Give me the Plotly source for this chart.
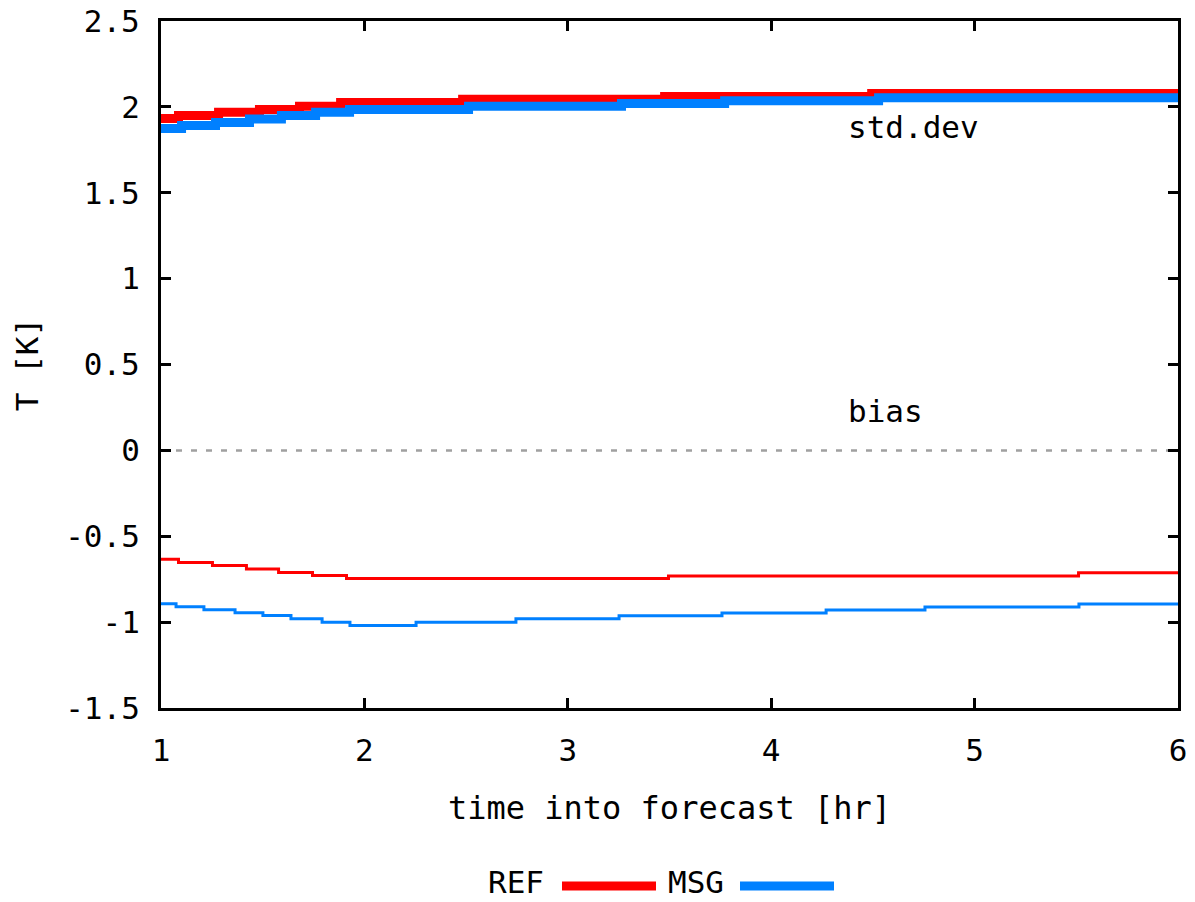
import plotly.graph_objects as go

# ---- data ----
ref_std_t = [1.0, 1.086, 1.283, 1.484, 1.681, 1.883, 2.483, 3.476, 4.494, 6.0]
ref_std_v = [1.933, 1.950, 1.968, 1.985, 2.003, 2.026, 2.044, 2.061, 2.078, 2.078]

msg_std_t = [1.0, 1.101, 1.268, 1.435, 1.592, 1.760, 1.927, 2.512, 3.264, 3.771, 4.528, 6.0]
msg_std_v = [1.874, 1.892, 1.909, 1.930, 1.950, 1.968, 1.985, 2.003, 2.020, 2.035, 2.053, 2.053]

ref_bias_t = [1.0, 1.086, 1.253, 1.420, 1.578, 1.745, 1.912, 3.495, 5.511, 6.0]
ref_bias_v = [-0.634, -0.653, -0.670, -0.690, -0.711, -0.729, -0.746, -0.731, -0.713, -0.713]

msg_bias_t = [1.0, 1.074, 1.211, 1.364, 1.501, 1.639, 1.792, 1.929, 2.254, 2.745,
              3.252, 3.758, 4.270, 4.756, 5.513, 6.0]
msg_bias_v = [-0.893, -0.910, -0.928, -0.945, -0.962, -0.980, -1.000, -1.020, -1.000, -0.980,
              -0.963, -0.947, -0.930, -0.912, -0.895, -0.895]

x_ticks = [1, 2, 3, 4, 5, 6]
x_tick_labels = ["1", "2", "3", "4", "5", "6"]
y_ticks = [2.5, 2, 1.5, 1, 0.5, 0, -0.5, -1, -1.5]
y_tick_labels = ["2.5", "2", "1.5", "1", "0.5", "0", "-0.5", "-1", "-1.5"]

series_names = ["REF", "MSG"]
RED = "#ff0000"
BLUE = "#0080ff"
FONT = "DejaVu Sans Mono"
FS = 31

fig = go.Figure()

# zero reference line
fig.add_hline(y=0, line=dict(color="#a0a0a0", width=2.5, dash="6px,9px"), layer="below")

fig.add_trace(go.Scatter(x=ref_std_t, y=ref_std_v, mode="lines", line_shape="hv",
                         line=dict(color=RED, width=9), name="REF", showlegend=False))
fig.add_trace(go.Scatter(x=msg_std_t, y=msg_std_v, mode="lines", line_shape="hv",
                         line=dict(color=BLUE, width=9), name="MSG", showlegend=False))
fig.add_trace(go.Scatter(x=ref_bias_t, y=ref_bias_v, mode="lines", line_shape="hv",
                         line=dict(color=RED, width=3), name="REF", showlegend=False))
fig.add_trace(go.Scatter(x=msg_bias_t, y=msg_bias_v, mode="lines", line_shape="hv",
                         line=dict(color=BLUE, width=3), name="MSG", showlegend=False))

# in-plot labels
fig.add_annotation(x=4.37, y=1.883, text="std.dev", showarrow=False, xanchor="left",
                   font=dict(family=FONT, size=FS, color="black"))
fig.add_annotation(x=4.37, y=0.23, text="bias", showarrow=False, xanchor="left",
                   font=dict(family=FONT, size=FS, color="black"))

# legend (gnuplot style: text then sample)
W = 1017.0
H = 687.0
def px(xp):
    return (xp - 161) / W
def py(yp):
    return (708 - yp) / H

fig.add_annotation(x=px(545), y=py(882), xref="paper", yref="paper", text=series_names[0],
                   showarrow=False, xanchor="right", yanchor="middle", borderpad=0,
                   font=dict(family=FONT, size=FS, color="black"))
fig.add_shape(type="line", xref="paper", yref="paper", x0=px(562), x1=px(656), y0=py(886), y1=py(886),
              line=dict(color=RED, width=9))
fig.add_annotation(x=px(725), y=py(882), xref="paper", yref="paper", text=series_names[1],
                   showarrow=False, xanchor="right", yanchor="middle", borderpad=0,
                   font=dict(family=FONT, size=FS, color="black"))
fig.add_shape(type="line", xref="paper", yref="paper", x0=px(740), x1=px(834), y0=py(886), y1=py(886),
              line=dict(color=BLUE, width=9))

axis_common = dict(showline=True, linewidth=3, linecolor="black", mirror="ticks",
                   ticks="inside", ticklen=10, tickwidth=3, tickcolor="black",
                   showgrid=False, zeroline=False, automargin=False,
                   tickfont=dict(family=FONT, size=FS, color="black"))

fig.update_xaxes(range=[1, 6], tickvals=x_ticks, ticktext=x_tick_labels,
                 title=dict(text="time into forecast [hr]", font=dict(family=FONT, size=32, color="black"),
                            standoff=30),
                 ticklabelstandoff=13, **axis_common)
fig.update_yaxes(range=[-1.5, 2.5], tickvals=y_ticks, ticktext=y_tick_labels,
                 title=dict(text="T [K]", font=dict(family=FONT, size=FS, color="black"), standoff=18),
                 ticklabelstandoff=12, **axis_common)

fig.update_layout(width=1195, height=902, plot_bgcolor="white", paper_bgcolor="white",
                  margin=dict(l=161, r=17, t=21, b=194), showlegend=False,
                  font=dict(family=FONT, size=FS, color="black"))

fig.write_html("out.html", config={"displayModeBar": False},
               post_script="document.body.style.margin='0px';")
